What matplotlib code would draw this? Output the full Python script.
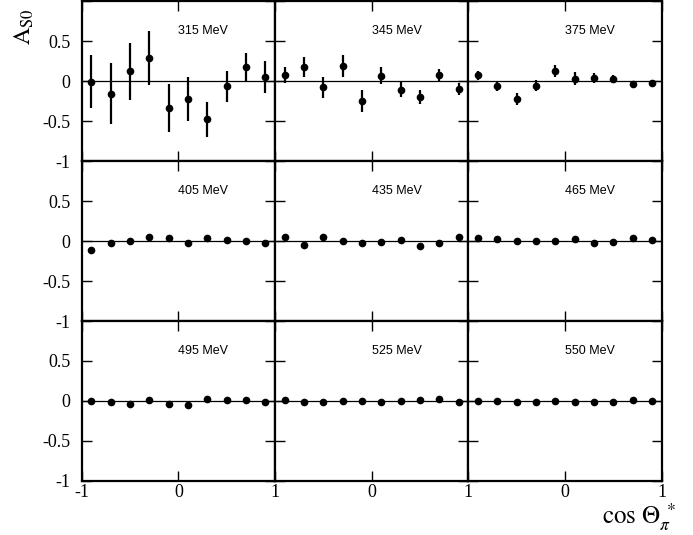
import matplotlib
matplotlib.use('Agg')
import matplotlib.pyplot as plt
import numpy as np

plt.rcParams['font.family'] = ['Liberation Serif', 'DejaVu Serif']
plt.rcParams['mathtext.fontset'] = 'stix'
plt.rcParams['axes.unicode_minus'] = False

# bin centres in cos(theta)
cos_bins = [-0.9, -0.7, -0.5, -0.3, -0.1, 0.1, 0.3, 0.5, 0.7, 0.9]
energies = ['315 MeV', '345 MeV', '375 MeV',
            '405 MeV', '435 MeV', '465 MeV',
            '495 MeV', '525 MeV', '550 MeV']

a_315 = [-0.01, -0.16, 0.12, 0.29, -0.34, -0.225, -0.48, -0.067, 0.18, 0.05]
e_315 = [0.33, 0.38, 0.36, 0.34, 0.30, 0.275, 0.215, 0.19, 0.175, 0.2]
a_345 = [0.07, 0.175, -0.08, 0.19, -0.25, 0.067, -0.11, -0.2, 0.075, -0.10]
e_345 = [0.1, 0.13, 0.13, 0.135, 0.135, 0.11, 0.095, 0.085, 0.075, 0.08]
a_375 = [0.07, -0.06, -0.225, -0.06, 0.125, 0.03, 0.04, 0.02, -0.04, -0.03]
e_375 = [0.055, 0.06, 0.075, 0.07, 0.075, 0.08, 0.065, 0.05, 0.03, 0.03]
a_405 = [-0.115, -0.025, -0.005, 0.05, 0.035, -0.025, 0.035, 0.01, -0.005, -0.02]
e_405 = [0.02, 0.02, 0.025, 0.03, 0.035, 0.035, 0.03, 0.02, 0.02, 0.02]
a_435 = [0.05, -0.055, 0.05, -0.005, -0.03, -0.012, 0.012, -0.058, -0.03, 0.055]
e_435 = [0.02, 0.02, 0.02, 0.02, 0.02, 0.02, 0.02, 0.02, 0.02, 0.02]
a_465 = [0.033, 0.02, 0.0, -0.005, 0.005, 0.025, -0.03, -0.012, 0.033, 0.012]
e_465 = [0.015, 0.015, 0.015, 0.015, 0.015, 0.015, 0.015, 0.015, 0.015, 0.015]
a_495 = [0.0, -0.008, -0.033, 0.012, -0.037, -0.055, 0.025, 0.012, 0.012, -0.012]
e_495 = [0.015, 0.015, 0.015, 0.015, 0.015, 0.015, 0.015, 0.015, 0.015, 0.015]
a_525 = [0.008, -0.016, -0.012, 0.0, -0.004, -0.016, 0.004, 0.012, 0.025, -0.008]
e_525 = [0.012, 0.012, 0.012, 0.012, 0.012, 0.012, 0.012, 0.012, 0.012, 0.012]
a_550 = [0.004, 0.0, -0.008, -0.012, 0.004, -0.008, -0.008, -0.016, 0.008, 0.004]
e_550 = [0.012, 0.012, 0.012, 0.012, 0.012, 0.012, 0.012, 0.012, 0.012, 0.012]

values = [a_315, a_345, a_375, a_405, a_435, a_465, a_495, a_525, a_550]
errors = [e_315, e_345, e_375, e_405, e_435, e_465, e_495, e_525, e_550]

fig, axes = plt.subplots(3, 3, figsize=(6.93, 5.35), dpi=100)
fig.subplots_adjust(left=0.118, right=0.955, top=0.998, bottom=0.101,
                    wspace=0, hspace=0)

for i, ax in enumerate(axes.flat):
    row, col = divmod(i, 3)
    ax.axhline(0, color='black', lw=0.9, zorder=1)
    ax.errorbar(cos_bins, values[i], yerr=errors[i], fmt='o', color='black',
                ms=4.5, elinewidth=1.6, capsize=0, zorder=3)
    ax.set_xlim(-1, 1)
    ax.set_ylim(-1, 1)
    ax.text(0.0, 0.63, energies[i], fontsize=9, family='Liberation Sans',
            ha='left', va='center')
    for s in ax.spines.values():
        s.set_linewidth(1.6)
    ax.set_xticks([-1, 0, 1])
    ax.set_yticks([-1, -0.5, 0, 0.5, 1])
    ax.tick_params(direction='in', length=7, width=1, top=True, right=True,
                   labelsize=13)
    ax.tick_params(axis='y', pad=8)
    ax.tick_params(axis='x', pad=2)
    if col == 0:
        ax.set_yticklabels(['-1', '-0.5', '0', '0.5', ''])
    else:
        ax.set_yticklabels([])
    if row == 2:
        if col == 0:
            ax.set_xticklabels(['-1', '0', '1'])
        else:
            ax.set_xticklabels(['', '0', '1'])
    else:
        ax.set_xticklabels([])

fig.text(0.035, 0.985, r'$\mathrm{A_{S0}}$', rotation=90, fontsize=17,
         ha='center', va='top')
fig.text(0.975, 0.004, r'$\mathrm{cos}\ \Theta_{\pi}^{\ *}$', fontsize=18,
         ha='right', va='bottom')

fig.savefig('out.png', dpi=100)
